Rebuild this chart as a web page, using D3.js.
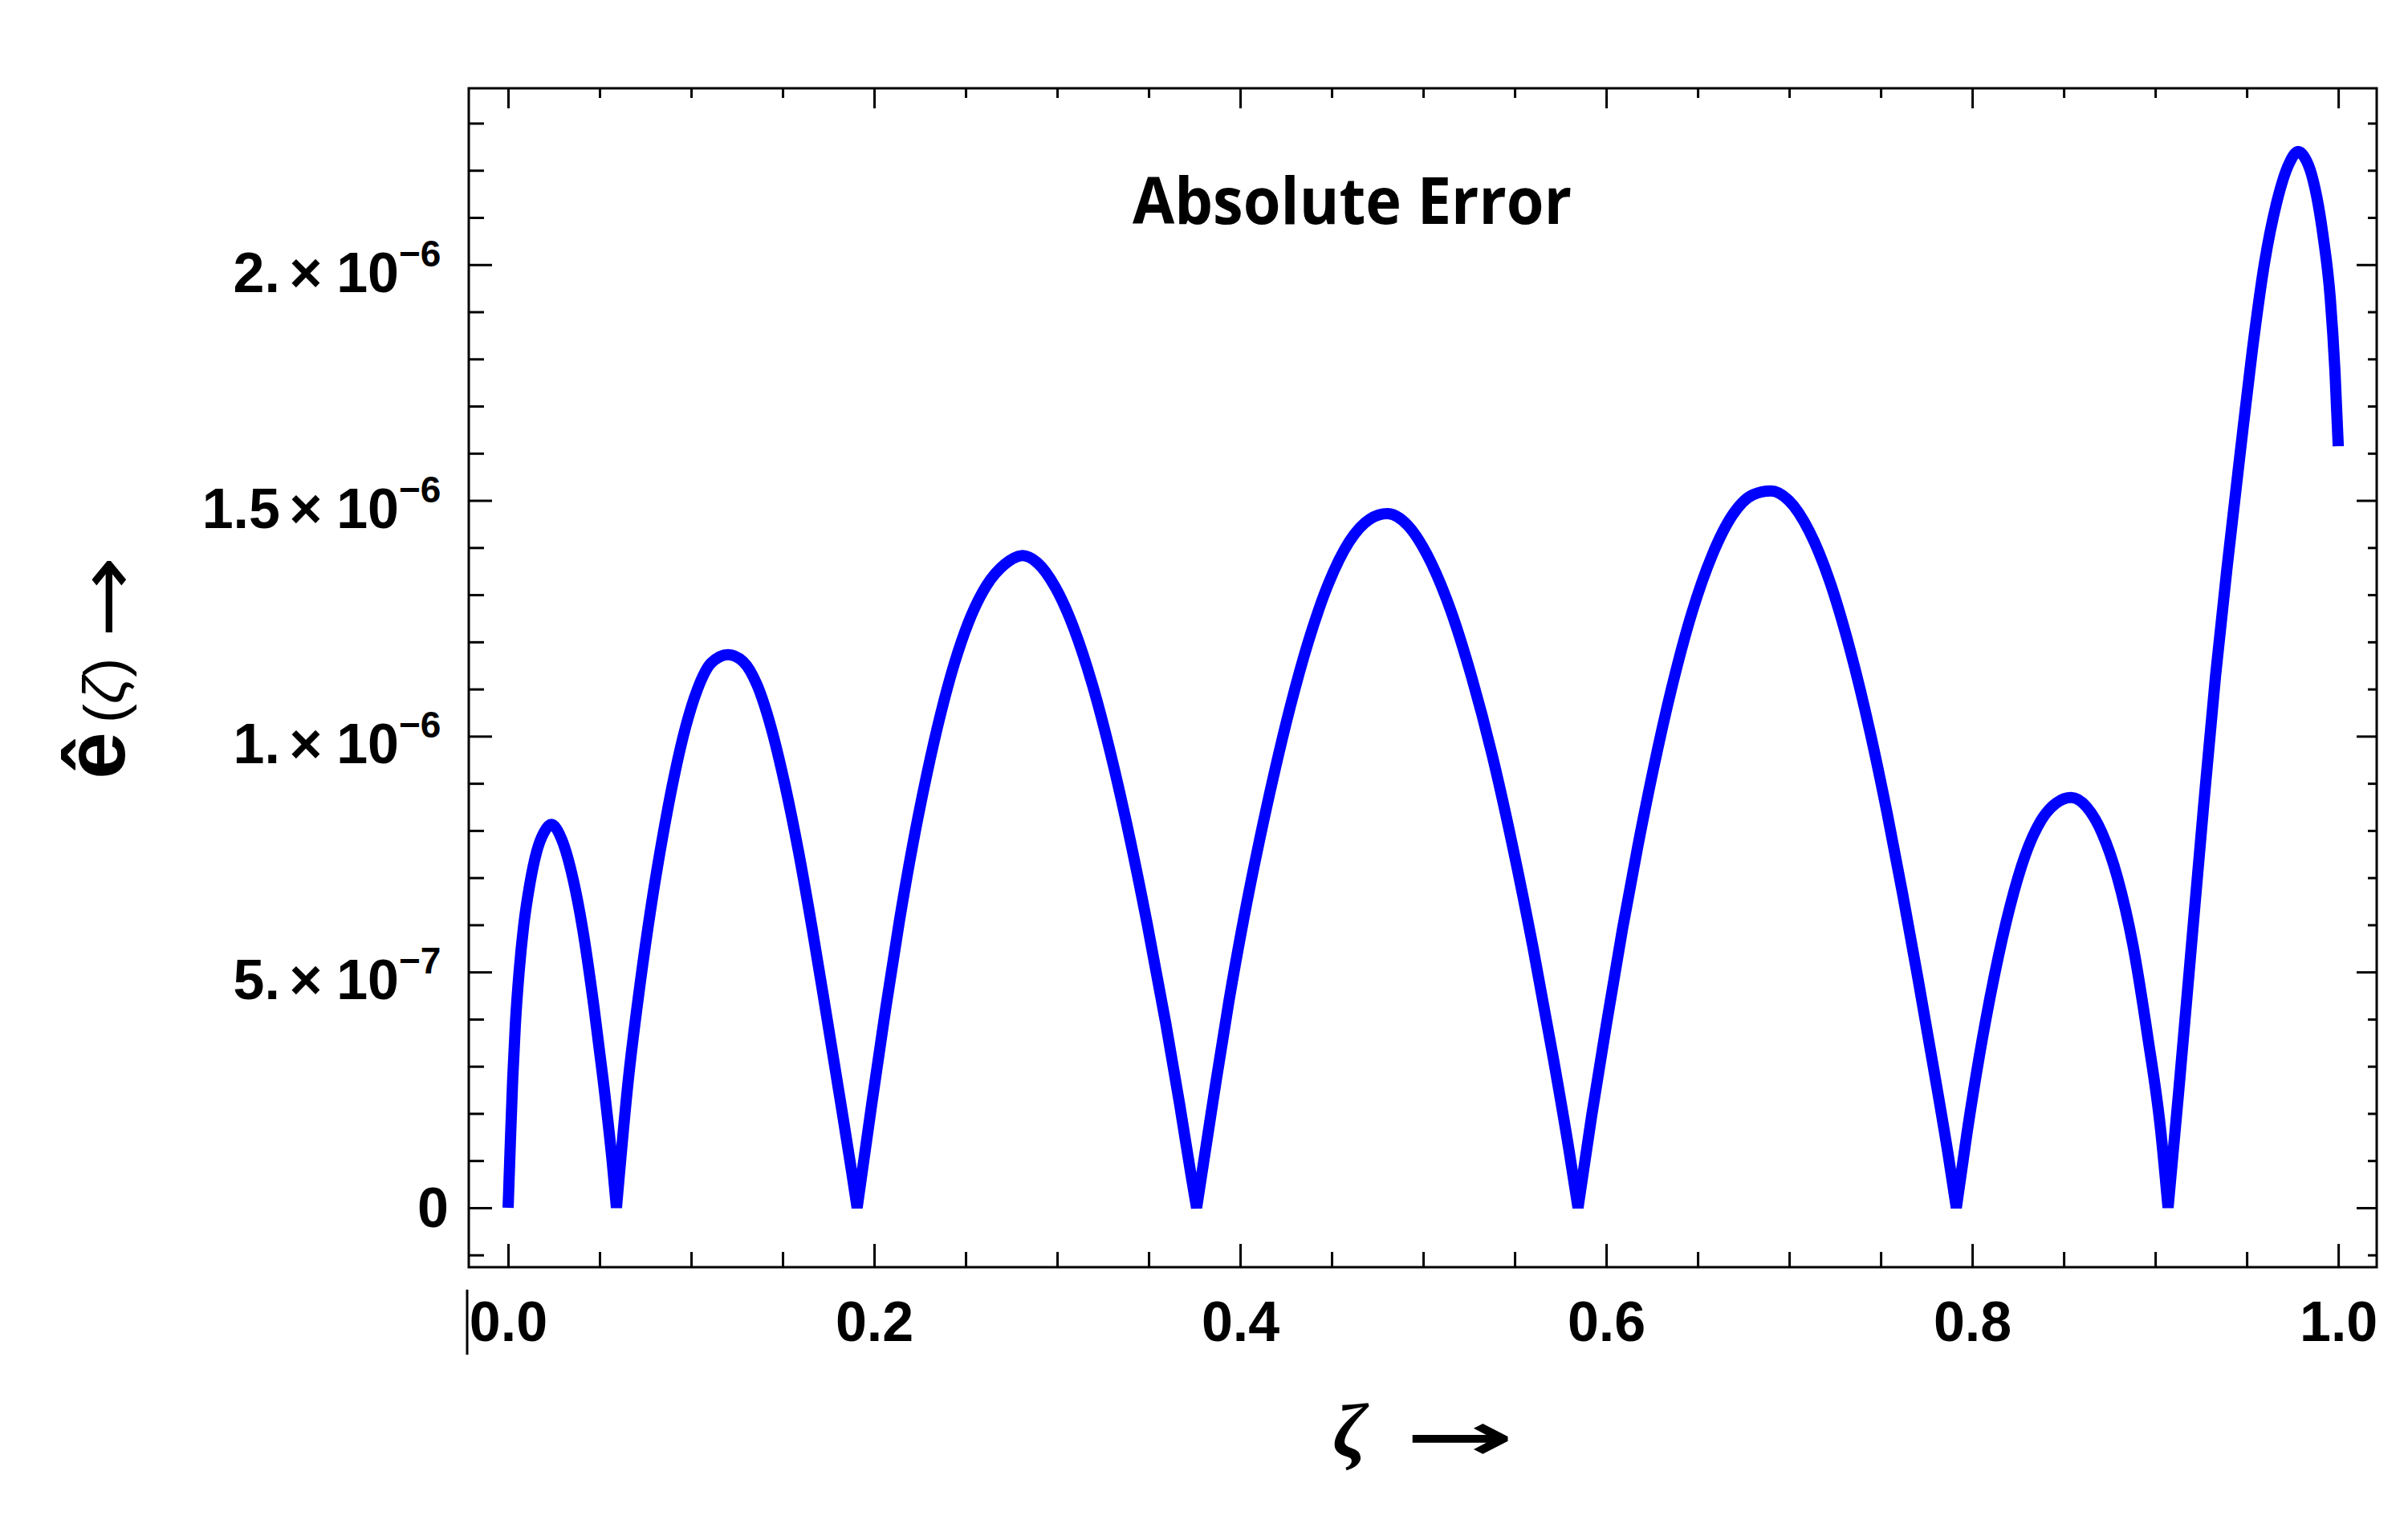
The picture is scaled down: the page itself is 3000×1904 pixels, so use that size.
<!DOCTYPE html>
<html>
<head>
  <meta charset="utf-8">
  <title>Absolute Error</title>
  <style>
    body { margin: 0; background: #fff; }
    .frame { fill: none; stroke: #000; stroke-width: 3px; }
    .ticks line { stroke: #000; stroke-width: 3px; }
    .ticks .domain { display: none; }
    .curve { fill: none; stroke: #0000ff; stroke-width: 14px; stroke-linejoin: miter; stroke-linecap: butt; }
    .ticklab { font-family: "Liberation Sans", Arial, sans-serif; font-weight: bold; fill: #000; }
  </style>
</head>
<body>
  <script src="https://cdn.jsdelivr.net/npm/d3@7/dist/d3.min.js"></script>
  <svg width="3000" height="1904"></svg>
  <script>
    // abscissa zeta and absolute error, error given in units of 1e-6
    var zeta = [
      0, 0.00125, 0.0025, 0.004, 0.006, 0.0085, 0.0118, 0.0156, 0.0196, 0.0236,
      0.0294, 0.0356, 0.0407, 0.0469, 0.0519, 0.057, 0.0592,
      0.0657, 0.072, 0.0783, 0.0846, 0.0908, 0.0971, 0.1034, 0.1109, 0.1202,
      0.1285, 0.136, 0.1435, 0.1511, 0.1586, 0.1661, 0.1736, 0.1812, 0.1875, 0.1907,
      0.1988, 0.2063, 0.2138, 0.2213, 0.2289, 0.2364, 0.2439, 0.2514, 0.2615, 0.2715, 0.2811,
      0.2891, 0.2991, 0.3092, 0.3192, 0.3292, 0.3393, 0.3493, 0.3594, 0.3669, 0.3733, 0.3762,
      0.3855, 0.3939, 0.4022, 0.4106, 0.419, 0.4274, 0.4372, 0.4483, 0.4595, 0.4707, 0.4804,
      0.4916, 0.5042, 0.5154, 0.5265, 0.5377, 0.5489, 0.5601, 0.5712, 0.5796, 0.5846,
      0.5921, 0.6006, 0.6089, 0.6173, 0.6257, 0.6355, 0.6466, 0.6578, 0.669, 0.6802, 0.6899,
      0.6997, 0.7109, 0.722, 0.7332, 0.7444, 0.7536, 0.762, 0.7703, 0.7787, 0.787, 0.7913,
      0.7972, 0.8039, 0.8122, 0.8206, 0.829, 0.8374, 0.8458, 0.8541,
      0.8625, 0.8709, 0.8793, 0.8877, 0.896, 0.9028, 0.907,
      0.9128, 0.9195, 0.9262, 0.9329, 0.9396, 0.9464, 0.9531, 0.9598, 0.9665, 0.9732, 0.9782,
      0.9815, 0.9855, 0.9917, 0.9956, 0.9982, 1.0
    ];
    var err = [
      0, 0.141, 0.272, 0.391, 0.5, 0.598, 0.685, 0.755, 0.796, 0.813,
      0.78, 0.695, 0.592, 0.426, 0.272, 0.093, 0,
      0.272, 0.471, 0.643, 0.79, 0.916, 1.021, 1.099, 1.155, 1.173,
      1.158, 1.109, 1.021, 0.9, 0.757, 0.593, 0.417, 0.235, 0.082, 0,
      0.223, 0.422, 0.608, 0.774, 0.921, 1.048, 1.155, 1.24, 1.32, 1.365, 1.383,
      1.368, 1.315, 1.228, 1.11, 0.963, 0.791, 0.6, 0.39, 0.22, 0.066, 0,
      0.235, 0.439, 0.618, 0.78, 0.928, 1.063, 1.2, 1.324, 1.412, 1.46, 1.472,
      1.447, 1.369, 1.263, 1.125, 0.96, 0.766, 0.55, 0.315, 0.124, 0,
      0.196, 0.4, 0.591, 0.767, 0.929, 1.098, 1.259, 1.383, 1.469, 1.512, 1.52,
      1.5, 1.435, 1.33, 1.184, 1.005, 0.835, 0.665, 0.487, 0.3, 0.109, 0,
      0.16, 0.322, 0.494, 0.638, 0.748, 0.82, 0.858, 0.87,
      0.85, 0.795, 0.701, 0.559, 0.36, 0.17, 0,
      0.246, 0.544, 0.842, 1.126, 1.37, 1.6, 1.82, 2.006, 2.134, 2.215, 2.24,
      2.228, 2.19, 2.061, 1.93, 1.774, 1.615
    ];

    var xTicks = [0, 0.2, 0.4, 0.6, 0.8, 1.0];
    var xTickLabels = ["0.0", "0.2", "0.4", "0.6", "0.8", "1.0"];
    var yTicks = [0, 0.5, 1, 1.5, 2];
    var yMantissa = ["0", "5.", "1.", "1.5", "2."];
    var yExponent = ["", "\u22127", "\u22126", "\u22126", "\u22126"];

    var svg = d3.select("svg");
    var width = +svg.attr("width");
    var height = +svg.attr("height");
    var margin = {top: 110, right: 39, bottom: 325, left: 584};

    var x = d3.scaleLinear()
        .domain([-0.0215, 1.021])
        .range([margin.left, width - margin.right]);
    var y = d3.scaleLinear()
        .domain([-0.126, 2.374])
        .range([height - margin.bottom, margin.top]);

    var x0 = margin.left, x1 = width - margin.right;
    var y0 = height - margin.bottom, y1 = margin.top;

    function isMajor(v, step) {
      return Math.abs(v / step - Math.round(v / step)) < 1e-6;
    }
    var xMinor = d3.range(0, 1.0001, 0.05).filter(function(v) { return !isMajor(v, 0.2); });
    var yMinor = d3.range(-0.1, 2.35, 0.1).filter(function(v) { return !isMajor(v, 0.5); });

    // ticks, all pointing inward
    function ticks(axis, tx, ty) {
      svg.append("g")
          .attr("class", "ticks")
          .attr("transform", "translate(" + tx + "," + ty + ")")
          .call(axis.tickSizeOuter(0).tickFormat(""));
    }
    ticks(d3.axisBottom(x).tickValues(xTicks).tickSize(-29), 0, y0);
    ticks(d3.axisBottom(x).tickValues(xMinor).tickSize(-19), 0, y0);
    ticks(d3.axisTop(x).tickValues(xTicks).tickSize(-25), 0, y1);
    ticks(d3.axisTop(x).tickValues(xMinor).tickSize(-12), 0, y1);
    ticks(d3.axisLeft(y).tickValues(yTicks).tickSize(-29), x0, 0);
    ticks(d3.axisLeft(y).tickValues(yMinor).tickSize(-19), x0, 0);
    ticks(d3.axisRight(y).tickValues(yTicks).tickSize(-25), x1, 0);
    ticks(d3.axisRight(y).tickValues(yMinor).tickSize(-11), x1, 0);

    svg.append("rect")
        .attr("class", "frame")
        .attr("x", x0).attr("y", y1)
        .attr("width", x1 - x0).attr("height", y0 - y1);

    // stray mark left of the first x label
    svg.append("line")
        .attr("x1", x0 - 2).attr("x2", x0 - 2)
        .attr("y1", y0 + 28).attr("y2", y0 + 109)
        .attr("stroke", "#000").attr("stroke-width", 3);

    // x tick labels
    var xl = svg.append("g")
        .attr("class", "ticks")
        .attr("transform", "translate(0," + y0 + ")")
        .call(d3.axisBottom(x).tickValues(xTicks).tickSize(0).tickPadding(42)
          .tickFormat(function(d, i) { return xTickLabels[i]; }));
    xl.attr("font-family", null).attr("font-size", null);
    xl.selectAll("text").attr("class", "ticklab").style("font-size", "70px");

    // y tick labels: mantissa x 10^exp
    var yl = svg.append("g").selectAll("g")
        .data(yTicks)
        .join("g")
        .attr("class", "ticklab")
        .style("font-size", "70px");

    yl.each(function(d, i) {
      var gg = d3.select(this);
      if (!yExponent[i]) {
        gg.append("text")
            .attr("x", x0 - 25).attr("y", y(d) + 24)
            .attr("text-anchor", "end")
            .text(yMantissa[i]);
        return;
      }
      var base = y(d) + 34;
      gg.append("text")
          .attr("x", x0 - 235).attr("y", base)
          .attr("text-anchor", "end")
          .text(yMantissa[i]);
      gg.append("text")
          .attr("x", x0 - 203).attr("y", base)
          .attr("text-anchor", "middle")
          .text("\u00d7");
      gg.append("text")
          .attr("x", x0 - 87).attr("y", base)
          .attr("text-anchor", "end")
          .text("10");
      gg.append("text")
          .attr("x", x0 - 87).attr("y", base - 32)
          .style("font-size", "46px")
          .text(yExponent[i]);
    });

    // the curve, one arch per stretch between zeros of the error
    var arches = [];
    var cur = [];
    zeta.forEach(function(z, i) {
      cur.push([z, err[i]]);
      if (err[i] === 0 && cur.length > 1) {
        arches.push(cur);
        cur = [[z, err[i]]];
      }
    });
    if (cur.length > 1) arches.push(cur);

    var line = d3.line()
        .x(function(d) { return x(d[0]); })
        .y(function(d) { return y(d[1]); })
        .curve(d3.curveMonotoneX);

    var d = arches.map(function(a, k) {
      var p = line(a);
      return k === 0 ? p : "L" + p.slice(1);
    }).join("");

    svg.append("path")
        .attr("class", "curve")
        .attr("d", d);

    // title
    svg.append("text")
        .attr("x", 1411).attr("y", 279)
        .attr("textLength", 547)
        .attr("lengthAdjust", "spacingAndGlyphs")
        .style("font-family", "'Open Sans', sans-serif")
        .style("font-weight", "bold")
        .style("font-size", "81px")
        .text("Absolute Error");

    // x axis label
    var xt = svg.append("g")
        .attr("transform", "translate(" + ((x0 + x1) / 2) + ",1815)");
    xt.append("text")
        .attr("x", -112)
        .style("font-family", "'Liberation Serif', serif")
        .style("font-style", "italic")
        .style("font-weight", "bold")
        .style("font-size", "96px")
        .text("\u03b6");
    xt.append("text")
        .attr("x", -22).attr("y", 4)
        .attr("textLength", 136)
        .attr("lengthAdjust", "spacingAndGlyphs")
        .style("font-family", "'DejaVu Sans', sans-serif")
        .style("font-weight", "bold")
        .style("font-size", "84px")
        .text("\u2192");

    // y axis label, rotated
    var yt = svg.append("g")
        .attr("transform", "translate(155,833) rotate(-90)");
    yt.append("text")
        .attr("x", -138)
        .style("font-family", "'Liberation Sans', sans-serif")
        .style("font-weight", "bold")
        .style("font-size", "106px")
        .text("\u00ea");
    var par = yt.append("text")
        .attr("x", -68)
        .style("font-family", "'Liberation Sans', sans-serif")
        .style("font-size", "72px");
    par.append("tspan").text("(");
    par.append("tspan").style("font-style", "italic").text("\u03b6");
    par.append("tspan").text(")");
    yt.append("text")
        .attr("x", 38).attr("y", 12)
        .attr("textLength", 102)
        .attr("lengthAdjust", "spacingAndGlyphs")
        .style("font-family", "'DejaVu Sans', sans-serif")
        .style("font-size", "100px")
        .text("\u2192");
  </script>
</body>
</html>
